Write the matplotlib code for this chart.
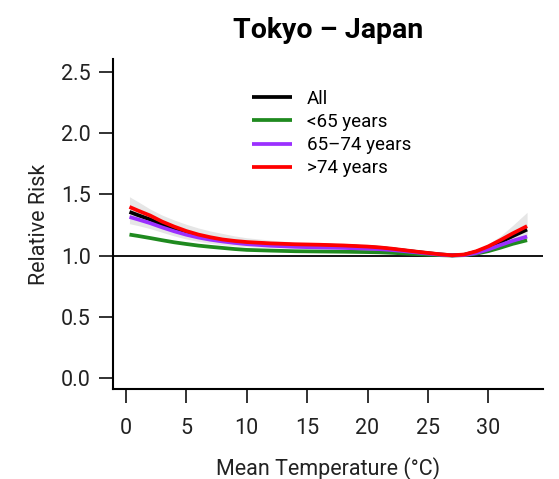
import numpy as np
import matplotlib
matplotlib.use('Agg')
import matplotlib.pyplot as plt

plt.rcParams['font.family'] = ['Roboto', 'DejaVu Sans']

# temperature grid (deg C) and relative risk per age group
temp = [0.3, 1, 2, 3, 4, 5, 6, 7, 8, 9, 10, 12, 14, 16, 18, 20, 21, 22, 23, 24,
        25, 26, 27, 28, 29, 30, 31, 32, 33.2]
rr_all = [1.356, 1.330, 1.295, 1.252, 1.215, 1.184, 1.158, 1.139, 1.124, 1.112,
          1.103, 1.093, 1.086, 1.082, 1.077, 1.068, 1.062, 1.052, 1.041, 1.030,
          1.019, 1.009, 1.002, 1.006, 1.030, 1.066, 1.110, 1.158, 1.212]
rr_lt65 = [1.171, 1.160, 1.143, 1.125, 1.108, 1.094, 1.081, 1.071, 1.062, 1.053,
           1.046, 1.040, 1.035, 1.033, 1.031, 1.028, 1.026, 1.022, 1.017, 1.012,
           1.007, 1.003, 1.000, 1.003, 1.015, 1.036, 1.064, 1.095, 1.125]
rr_65_74 = [1.315, 1.295, 1.265, 1.230, 1.198, 1.170, 1.147, 1.129, 1.115, 1.103,
            1.093, 1.080, 1.071, 1.066, 1.062, 1.056, 1.052, 1.045, 1.036, 1.026,
            1.016, 1.007, 1.001, 1.004, 1.020, 1.050, 1.086, 1.120, 1.155]
rr_gt74 = [1.397, 1.367, 1.327, 1.277, 1.236, 1.200, 1.171, 1.149, 1.131, 1.119,
           1.110, 1.099, 1.092, 1.088, 1.082, 1.073, 1.066, 1.056, 1.044, 1.032,
           1.021, 1.010, 1.002, 1.008, 1.035, 1.075, 1.126, 1.180, 1.240]
# 95% CI of the overall curve
ci_low = [1.26, 1.245, 1.22, 1.19, 1.16, 1.135, 1.115, 1.10, 1.088, 1.08,
          1.072, 1.065, 1.06, 1.058, 1.054, 1.048, 1.043, 1.036, 1.028, 1.02,
          1.012, 1.005, 1.001, 1.003, 1.018, 1.04, 1.065, 1.095, 1.13]
ci_high = [1.48, 1.44, 1.38, 1.33, 1.29, 1.255, 1.225, 1.20, 1.18, 1.16,
           1.145, 1.125, 1.11, 1.105, 1.10, 1.09, 1.082, 1.07, 1.056, 1.042,
           1.027, 1.013, 1.002, 1.01, 1.045, 1.095, 1.16, 1.245, 1.353]

series = [
    ('All', rr_all, 'black'),
    ('<65 years', rr_lt65, '#1f8a1f'),
    ('65\u201374 years', rr_65_74, '#9b30ff'),
    ('>74 years', rr_gt74, 'red'),
]

fig = plt.figure(figsize=(5.59, 4.79), dpi=100)
ax = fig.add_axes([0.202, 0.188, 0.769, 0.689])

ax.fill_between(temp, ci_low, ci_high, color='#e6e6e6', lw=0)
ax.axhline(1.0, color='black', lw=1.3)
for label, vals, col in series:
    ax.plot(temp, vals, color=col, lw=2.7, label=label,
            solid_joinstyle='round', solid_capstyle='butt')

ax.set_xlim(-1.07, 34.5)
ax.set_ylim(-0.09, 2.606)
ax.set_xticks([0, 5, 10, 15, 20, 25, 30])
ax.set_yticks([0.0, 0.5, 1.0, 1.5, 2.0, 2.5])
ax.set_yticklabels(['0.0', '0.5', '1.0', '1.5', '2.0', '2.5'])
ax.tick_params(axis='both', length=10, width=1.3, labelsize=15.5, colors='#222222')
ax.tick_params(axis='x', pad=11)
ax.tick_params(axis='y', pad=6)
for s in ['top', 'right']:
    ax.spines[s].set_visible(False)
for s in ['left', 'bottom']:
    ax.spines[s].set_linewidth(1.5)

ax.set_xlabel('Mean Temperature (\u00b0C)', fontsize=15.5, color='#222222', labelpad=13)
ax.set_ylabel('Relative Risk', fontsize=15.5, color='#222222', labelpad=8)
ax.set_title('Tokyo \u2013 Japan', fontsize=20.5, fontweight='bold', pad=15)

ax.legend(loc='upper left', bbox_to_anchor=(0.285, 0.957), frameon=False,
          fontsize=13.5, handlelength=2.1, handletextpad=0.8, labelspacing=0.27)

fig.savefig('out.png', dpi=100)
